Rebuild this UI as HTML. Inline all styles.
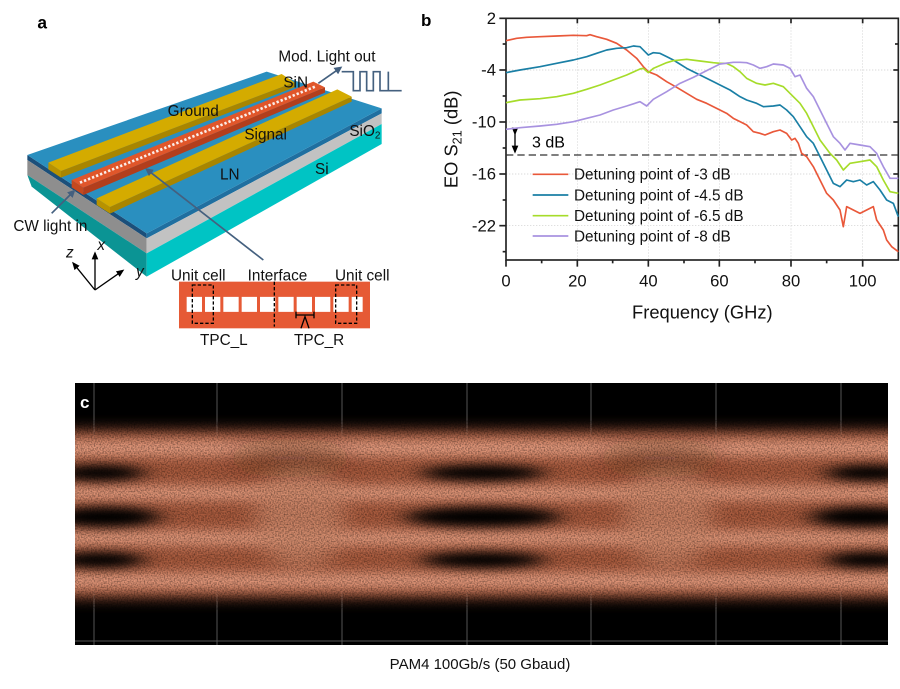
<!DOCTYPE html>
<html><head><meta charset="utf-8"><style>
html,body{margin:0;padding:0;background:#fff;}
svg{display:block;font-family:"Liberation Sans",Arial,sans-serif;}
</style></head><body>
<svg width="900" height="689" viewBox="0 0 900 689" xmlns="http://www.w3.org/2000/svg">
<defs>
<filter id="b6" x="-20%" y="-50%" width="140%" height="200%"><feGaussianBlur stdDeviation="7"/></filter>
<filter id="b4" x="-20%" y="-80%" width="140%" height="260%"><feGaussianBlur stdDeviation="6"/></filter>
<filter id="bd" x="-50%" y="-150%" width="200%" height="400%"><feGaussianBlur stdDeviation="12 5"/></filter>
<filter id="b9" x="-30%" y="-100%" width="160%" height="300%"><feGaussianBlur stdDeviation="12"/></filter>
<filter id="grain" x="0" y="0" width="100%" height="100%"><feTurbulence type="fractalNoise" baseFrequency="0.7" numOctaves="1" seed="3"/><feColorMatrix values="0 0 0 0 0  0 0 0 0 0  0 0 0 0 0  0 0 0 1.6 -0.6"/></filter>
<marker id="ah" markerWidth="24" markerHeight="24" refX="18" refY="12" orient="auto" markerUnits="userSpaceOnUse"><path d="M0,0 L24,12 L0,24 z" fill="#44607f"/></marker>
<marker id="ak" markerWidth="24" markerHeight="24" refX="18" refY="12" orient="auto" markerUnits="userSpaceOnUse"><path d="M0,2 L24,12 L0,22 z" fill="#000"/></marker>
</defs>

<!-- Panel a -->
<g transform="scale(0.33333)">
<text x="112" y="85" font-size="52" font-weight="bold">a</text>
<polygon points="82,465 440,700 440,715 82,480" fill="#1b4f7a"/>
<polygon points="82,480 440,715 440,760 82,525" fill="#8e8e8e"/>
<polygon points="82,525 440,760 440,830 95,560" fill="#0b9494"/>
<polygon points="440,700 1145,325 1145,340 440,715" fill="#1f6fa0"/>
<polygon points="440,715 1145,340 1145,372 440,760" fill="#c2c2c2"/>
<polygon points="440,760 1145,372 1145,432 440,830" fill="#00c4c4"/>
<polygon points="82,465 800,215 1145,325 440,700" fill="#2a8fbf"/>
<polygon points="183,513 883,247 883,262 183,533" fill="#a88500"/>
<polygon points="145,488 183,513 183,533 145,508" fill="#b89200"/>
<polygon points="145,488 845,222 883,247 183,513" fill="#d4ab00"/>
<polygon points="330,621 1055,290 1055,305 330,641" fill="#a88500"/>
<polygon points="290,595 330,621 330,641 290,615" fill="#b89200"/>
<polygon points="290,595 1012,268 1055,290 330,621" fill="#d4ab00"/>
<polygon points="250,563 975,262 975,278 250,585" fill="#b23e1c"/>
<polygon points="215,540 250,563 250,585 215,562" fill="#c5491f"/>
<polygon points="215,540 940,245 975,262 250,563" fill="#e0562a"/>
<line x1="240" y1="548" x2="950" y2="258" stroke="#fff" stroke-width="8" stroke-dasharray="7 6" opacity="0.9"/>
<line x1="155" y1="640" x2="222" y2="573" stroke="#44607f" stroke-width="5" marker-end="url(#ah)"/>
<line x1="790" y1="780" x2="440" y2="508" stroke="#44607f" stroke-width="5" marker-end="url(#ah)"/>
<line x1="955" y1="250" x2="1022" y2="203" stroke="#44607f" stroke-width="5" marker-end="url(#ah)"/>
<polyline points="1025,215 1060,215 1060,272 1080,272 1080,215 1100,215 1100,272 1120,272 1120,215 1140,215 1140,272 1165,272 1165,215 1165,272 1205,272" fill="none" stroke="#44607f" stroke-width="5"/>
<g stroke="#000" stroke-width="4" fill="none">
<line x1="285" y1="870" x2="220" y2="790" marker-end="url(#ak)"/>
<line x1="285" y1="870" x2="285" y2="760" marker-end="url(#ak)"/>
<line x1="285" y1="870" x2="368" y2="812" marker-end="url(#ak)"/>
</g>
<g font-size="46" fill="#111">
<text x="198" y="772" font-style="italic">z</text>
<text x="292" y="750" font-style="italic">x</text>
<text x="408" y="830" font-style="italic">y</text>
<text x="835" y="185">Mod. Light out</text>
<text x="850" y="262">SiN</text>
<text x="503" y="348">Ground</text>
<text x="733" y="418">Signal</text>
<text x="1048" y="408">SiO<tspan font-size="30" dy="8">2</tspan></text>
<text x="660" y="538">LN</text>
<text x="945" y="522">Si</text>
<text x="40" y="693">CW light in</text>
<text x="513" y="842">Unit cell</text>
<text x="743" y="842">Interface</text>
<text x="1005" y="842">Unit cell</text>
<text x="600" y="1035">TPC_L</text>
<text x="882" y="1035">TPC_R</text>
</g>
<rect x="537" y="845" width="573" height="140" fill="#e65a35"/>
<line x1="560" y1="913" x2="1088" y2="913" stroke="#fff" stroke-width="45" stroke-dasharray="46 9"/>
<g stroke="#000" stroke-width="4" fill="none" stroke-dasharray="10 6">
<rect x="577" y="855" width="63" height="115"/>
<rect x="1007" y="855" width="63" height="115"/>
<line x1="823" y1="845" x2="823" y2="980"/>
</g>
<g stroke="#000" stroke-width="4" fill="none">
<line x1="888" y1="945" x2="942" y2="945"/>
<line x1="888" y1="935" x2="888" y2="955"/><line x1="942" y1="935" x2="942" y2="955"/>
<polyline points="903,985 915,950 927,985"/>
</g>
</g>

<!-- Panel b -->
<text x="421" y="26" font-size="17" font-weight="bold">b</text>
<g transform="translate(440,0) scale(0.33333)">
<g stroke="#ccc" stroke-width="2" stroke-dasharray="4 5">
<line x1="412" y1="55" x2="412" y2="780"/><line x1="625" y1="55" x2="625" y2="780"/>
<line x1="838" y1="55" x2="838" y2="780"/><line x1="1053" y1="55" x2="1053" y2="780"/>
<line x1="1268" y1="55" x2="1268" y2="780"/>
<line x1="198" y1="210" x2="1375" y2="210"/><line x1="198" y1="366" x2="1375" y2="366"/>
<line x1="198" y1="522" x2="1375" y2="522"/><line x1="198" y1="677" x2="1375" y2="677"/>
</g>
<rect x="198" y="55" width="1177" height="725" fill="none" stroke="#222" stroke-width="5"/>
<g stroke="#222" stroke-width="5">
<line x1="198" y1="780" x2="198" y2="800"/><line x1="412" y1="780" x2="412" y2="800"/><line x1="625" y1="780" x2="625" y2="800"/><line x1="838" y1="780" x2="838" y2="800"/><line x1="1053" y1="780" x2="1053" y2="800"/><line x1="1268" y1="780" x2="1268" y2="800"/>
<line x1="305" y1="780" x2="305" y2="790"/><line x1="518" y1="780" x2="518" y2="790"/><line x1="732" y1="780" x2="732" y2="790"/><line x1="945" y1="780" x2="945" y2="790"/><line x1="1160" y1="780" x2="1160" y2="790"/>
<line x1="178" y1="55" x2="198" y2="55"/><line x1="178" y1="210" x2="198" y2="210"/><line x1="178" y1="366" x2="198" y2="366"/><line x1="178" y1="522" x2="198" y2="522"/><line x1="178" y1="677" x2="198" y2="677"/>
<line x1="188" y1="132" x2="198" y2="132"/><line x1="188" y1="288" x2="198" y2="288"/><line x1="188" y1="444" x2="198" y2="444"/><line x1="188" y1="600" x2="198" y2="600"/><line x1="188" y1="755" x2="198" y2="755"/>
<line x1="1375" y1="210" x2="1360" y2="210"/><line x1="1375" y1="366" x2="1360" y2="366"/><line x1="1375" y1="522" x2="1360" y2="522"/><line x1="1375" y1="677" x2="1360" y2="677"/><line x1="1375" y1="132" x2="1365" y2="132"/>
<line x1="412" y1="55" x2="412" y2="70"/><line x1="625" y1="55" x2="625" y2="70"/><line x1="838" y1="55" x2="838" y2="70"/><line x1="1053" y1="55" x2="1053" y2="70"/><line x1="1268" y1="55" x2="1268" y2="70"/>
</g>
<g font-size="50" fill="#111" text-anchor="end">
<text x="168" y="72">2</text><text x="168" y="227">-4</text><text x="168" y="383">-10</text><text x="168" y="539">-16</text><text x="168" y="694">-22</text>
</g>
<g font-size="50" fill="#111" text-anchor="middle">
<text x="198" y="860">0</text><text x="412" y="860">20</text><text x="625" y="860">40</text><text x="838" y="860">60</text><text x="1053" y="860">80</text><text x="1268" y="860">100</text>
<text x="787" y="955" font-size="55">Frequency (GHz)</text>
<text transform="translate(52,418) rotate(-90)" font-size="55">EO S<tspan font-size="38" dy="12">21</tspan><tspan dy="-12"> (dB)</tspan></text>
</g>
<line x1="198" y1="465" x2="1375" y2="465" stroke="#333" stroke-width="4" stroke-dasharray="22 12"/>
<g stroke="#000" stroke-width="4"><line x1="225" y1="400" x2="225" y2="455" marker-start="url(#ak)" marker-end="url(#ak)"/></g>
<text x="276" y="442" font-size="48">3 dB</text>
<g fill="none" stroke-width="5" stroke-linejoin="round">
<polyline stroke="#e9583a" points="198,122 230,115 260,112 300,110 350,108 400,106 440,107 450,104 470,110 500,118 530,130 560,150 590,175 610,200 625,215 650,225 680,245 710,262 740,280 770,298 800,310 830,325 860,340 880,355 900,365 920,375 940,395 960,400 975,405 1000,395 1020,390 1040,400 1055,420 1065,415 1075,430 1085,460 1100,470 1120,500 1140,540 1160,580 1180,600 1200,630 1210,680 1220,620 1240,630 1260,640 1280,630 1300,620 1310,660 1330,690 1340,720 1355,740 1375,755"/>
<polyline stroke="#1a7fa5" points="198,218 240,210 300,200 350,190 400,180 440,170 470,160 500,150 530,145 560,143 580,138 600,140 615,155 625,165 640,158 660,160 680,170 700,180 740,205 780,225 820,245 840,255 870,270 900,290 920,300 950,310 970,320 1000,318 1020,315 1040,330 1060,350 1080,380 1100,410 1120,430 1140,470 1160,510 1180,550 1200,560 1220,540 1240,545 1260,540 1280,555 1300,545 1320,570 1340,600 1360,610 1375,650"/>
<polyline stroke="#a6dc2a" points="198,308 240,300 300,296 350,290 400,280 440,268 480,255 520,240 560,225 600,207 610,205 625,218 640,205 680,188 700,182 740,178 780,183 820,188 840,190 860,190 880,200 900,215 920,235 950,250 975,255 1000,250 1030,260 1060,290 1080,310 1100,340 1120,380 1140,420 1170,460 1190,480 1210,510 1230,490 1260,485 1290,480 1310,500 1330,540 1350,575 1375,580"/>
<polyline stroke="#a892e0" points="198,388 240,383 300,378 350,373 400,365 440,355 480,345 520,330 560,318 600,305 620,318 640,298 680,275 720,250 760,232 800,212 840,192 880,187 900,187 920,188 940,195 960,205 980,200 1000,192 1030,195 1050,205 1065,230 1080,225 1100,265 1120,290 1140,330 1160,370 1180,410 1200,430 1215,450 1230,430 1260,435 1290,440 1310,460 1330,500 1350,535 1375,535"/>
</g>
<g stroke-width="5">
<line x1="278" y1="523" x2="385" y2="523" stroke="#e9583a"/>
<line x1="278" y1="585" x2="385" y2="585" stroke="#1a7fa5"/>
<line x1="278" y1="647" x2="385" y2="647" stroke="#a6dc2a"/>
<line x1="278" y1="708" x2="385" y2="708" stroke="#a892e0"/>
</g>
<g font-size="46" fill="#111">
<text x="402" y="539">Detuning point of -3 dB</text>
<text x="402" y="601">Detuning point of -4.5 dB</text>
<text x="402" y="663">Detuning point of -6.5 dB</text>
<text x="402" y="724">Detuning point of -8 dB</text>
</g>
</g>

<!-- Panel c -->
<svg x="75" y="383" width="813" height="262" viewBox="75 383 813 262">
<rect x="75" y="383" width="813" height="262" fill="#000"/>
<g stroke="#555" stroke-width="1">
<line x1="94" y1="383" x2="94" y2="645"/><line x1="217" y1="383" x2="217" y2="645"/><line x1="342" y1="383" x2="342" y2="645"/><line x1="467" y1="383" x2="467" y2="645"/><line x1="591" y1="383" x2="591" y2="645"/><line x1="716" y1="383" x2="716" y2="645"/><line x1="841" y1="383" x2="841" y2="645"/>
<line x1="75" y1="641" x2="888" y2="641"/>
</g>
<rect x="40" y="430" width="880" height="168" fill="#a85a3e" filter="url(#b6)"/>
<g fill="#eaa184" filter="url(#b4)">
<rect x="40" y="440" width="880" height="16"/>
<rect x="40" y="486" width="880" height="14"/>
<rect x="40" y="531" width="880" height="14"/>
<rect x="40" y="573" width="880" height="15"/>
</g>
<g fill="#d08a6c" filter="url(#b9)" opacity="0.8">
<ellipse cx="300" cy="515" rx="45" ry="55"/><ellipse cx="668" cy="515" rx="45" ry="55"/>
</g>
<g fill="#000" filter="url(#bd)">
<ellipse cx="483" cy="473" rx="62" ry="8"/><ellipse cx="483" cy="517" rx="78" ry="10"/><ellipse cx="483" cy="560" rx="62" ry="8"/>
<ellipse cx="100" cy="473" rx="45" ry="8"/><ellipse cx="105" cy="517" rx="55" ry="10"/><ellipse cx="100" cy="560" rx="45" ry="8"/>
<ellipse cx="870" cy="473" rx="45" ry="8"/><ellipse cx="865" cy="517" rx="55" ry="10"/><ellipse cx="870" cy="560" rx="45" ry="8"/>
</g>
<g fill="#3a1a10" filter="url(#b9)" opacity="0.6">
<ellipse cx="290" cy="458" rx="60" ry="8"/><ellipse cx="660" cy="458" rx="60" ry="8"/>
</g>
<rect x="75" y="420" width="813" height="190" filter="url(#grain)" opacity="0.6"/>
<text x="80" y="408" font-size="17" font-weight="bold" fill="#fff">c</text>
</svg>
<text x="480" y="669" font-size="15" text-anchor="middle" fill="#111">PAM4  100Gb/s (50 Gbaud)</text>
</svg>
</body></html>
